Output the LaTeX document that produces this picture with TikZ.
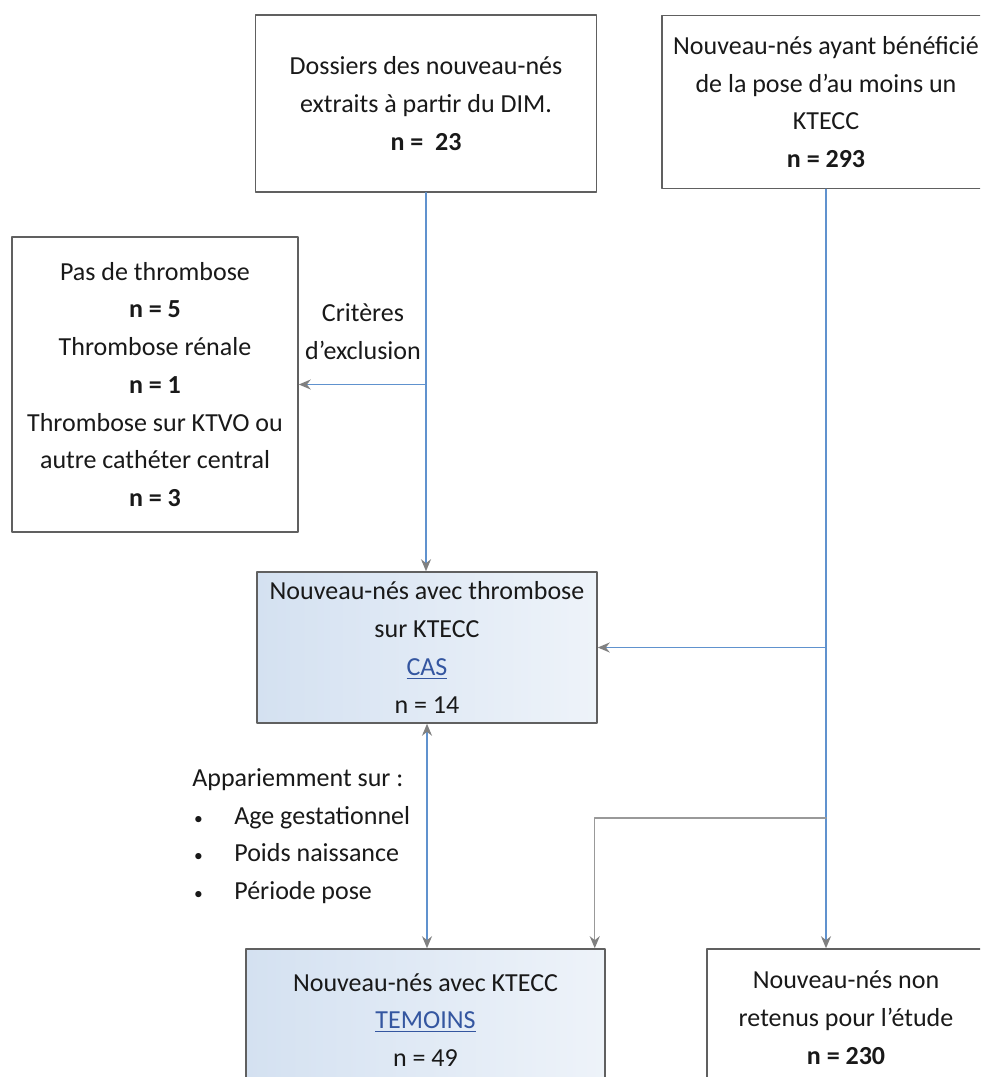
\documentclass[tikz,border=0pt]{standalone}
\usepackage{fontspec}
\setmainfont{Carlito}
\usetikzlibrary{arrows.meta}

\definecolor{framegray}{RGB}{96,96,96}
\definecolor{linkblue}{RGB}{96,146,206}
\definecolor{casblue}{RGB}{212,225,241}
\definecolor{textblue}{RGB}{52,86,160}
\definecolor{inkgray}{RGB}{25,25,25}

\newcommand{\listdot}{\makebox[0.84cm][l]{\hspace{1pt}\fontsize{10}{10}\selectfont\textbullet}}

\begin{document}
\begin{tikzpicture}[x=0.02cm, y=-0.02cm, >={Stealth[length=2.4mm, width=2mm, color=gray]}, line cap=round, line join=round,
  box/.style={draw=framegray, line width=0.9pt, fill=white, text=inkgray, align=center, inner sep=2pt, font=\fontsize{14.8}{21.5}\selectfont},
  groupbox/.style={box, left color=casblue, right color=casblue!40!white},
  link/.style={->, draw=linkblue, line width=0.8pt},
  note/.style={text=inkgray, font=\fontsize{14.8}{21.5}\selectfont}]

\useasboundingbox (0,0) rectangle (980,1077);
\clip (0,0) rectangle (980,1077);
\fill[white] (0,0) rectangle (980,1077);

\node[box, minimum width=6.82cm, minimum height=3.54cm] (dim) at (426,103.5) {Dossiers des nouveau-nés\\extraits à partir du DIM.\\\textbf{n = ~23}};
\node[box, minimum width=6.56cm, minimum height=3.46cm] (ktecc) at (826,102) {Nouveau-nés ayant bénéficié\\de la pose d’au moins un\\KTECC\\\textbf{n = 293}};
\node[box, minimum width=5.72cm, minimum height=5.9cm] (excl) at (155,384.5) {Pas de thrombose\\\textbf{n = 5}\\Thrombose rénale\\\textbf{n = 1}\\Thrombose sur KTVO ou\\autre cathéter central\\\textbf{n = 3}};
\node[note, align=center] (crit) at (363,331.5) {Critères\\d’exclusion};
\node[groupbox, minimum width=6.8cm, minimum height=3.02cm] (cas) at (427,647.5) {Nouveau-nés avec thrombose\\sur KTECC\\\textcolor{textblue}{\underline{CAS}}\\n = 14};
\node[note, anchor=north west, align=left, inner sep=0pt] (match) at (192,768) {Appariemment sur :\\\listdot Age gestationnel\\\listdot Poids naissance\\\listdot Période pose};
\node[groupbox, minimum width=7.18cm, minimum height=2.84cm] (temoins) at (425.5,1020) {Nouveau-nés avec KTECC\\\textcolor{textblue}{\underline{TEMOINS}}\\n = 49};
\node[box, minimum width=5.56cm, minimum height=2.74cm] (nonret) at (846,1017.5) {Nouveau-nés non\\retenus pour l’étude\\\textbf{n = 230}};

% left branch
\draw[link] (dim.south) -- (dim.south |- cas.north);
\draw[link] (dim.south |- excl.east) -- (excl.east);
\draw[link, <->] (cas.south) -- (cas.south |- temoins.north);

% right branch
\coordinate (fork) at (ktecc.south |- 0,818);
\draw[link] (ktecc.south) -- (ktecc.south |- nonret.north);
\draw[link] (ktecc.south |- cas.east) -- (cas.east);
\draw[link, draw=gray!80] (fork) -| ([xshift=-0.22cm]temoins.north east);

\end{tikzpicture}
\end{document}
